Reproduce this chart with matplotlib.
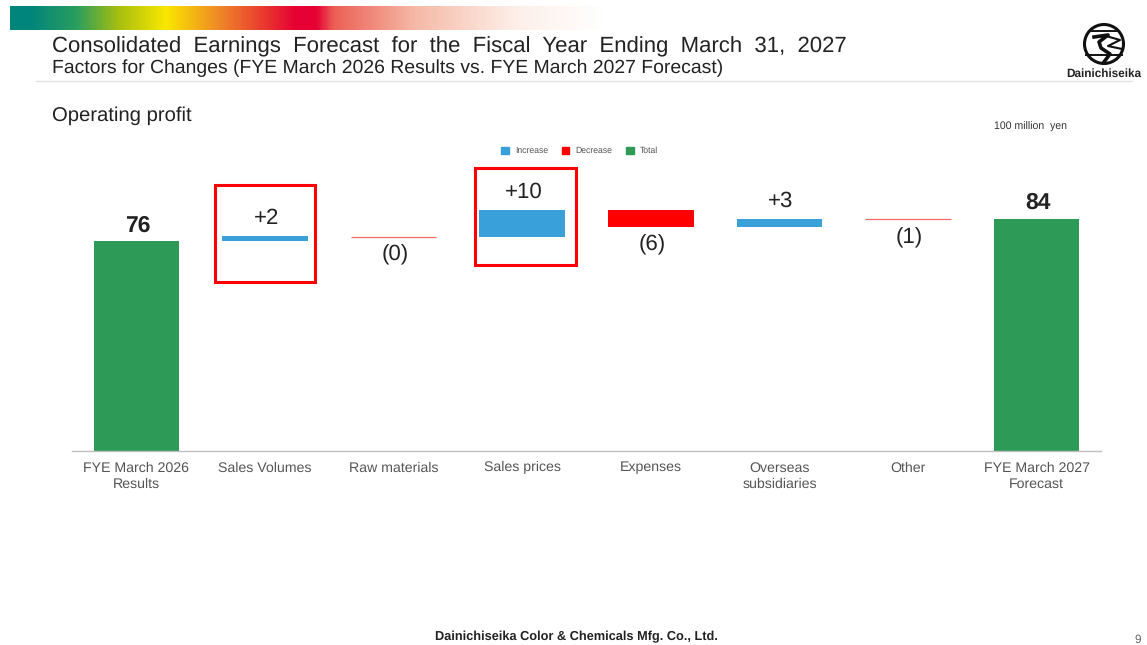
import numpy as np
import matplotlib
matplotlib.use("Agg")
import matplotlib.pyplot as plt
from matplotlib.colors import LinearSegmentedColormap
from matplotlib.patches import Rectangle, Circle, Patch

plt.rcParams['font.family'] = ['Liberation Sans', 'DejaVu Sans']
plt.rcParams['text.hinting'] = 'none'

# Datos
categorias = ['FYE March 2026\nResults', 'Sales Volumes', 'Raw materials', 'Sales prices',
              'Expenses', 'Overseas\nsubsidiaries', 'Other', 'FYE March 2027\nForecast']
valores = [76, 1.8, -0.2, 9.7, -6.1, 2.9, -0.1, 84]
etiquetas = ['76', '+2', '(0)', '+10', '(6)', '+3', '(1)', '84']
tipos = ['Total', 'Increase', 'Decrease', 'Increase', 'Decrease', 'Increase', 'Decrease', 'Total']

Azul = '#3AA0DA'
Rojo = '#FF0000'
Verde = '#2E9A57'
Gris = '#222222'
colores = {'Increase': Azul, 'Decrease': Rojo, 'Total': Verde}

W, H = 1147, 645
fig = plt.figure(figsize=(W / 100, H / 100), dpi=100)

# Capa de fondo en pixeles para encabezado, logo y pie
bg = fig.add_axes([0, 0, 1, 1])
bg.axis('off')

stops = [(0, '#00857D'), (0.03, '#00857D'), (0.11, '#2A9E5E'), (0.18, '#A5BE10'), (0.26, '#FAE800'), (0.36, '#EE7F2A'),
         (0.48, '#E60033'), (0.515, '#E60033'), (0.545, '#EC5F55'), (0.68, '#F5B8A5'), (0.85, '#FDEFE8'), (1, '#FFFFFF')]
cmap = LinearSegmentedColormap.from_list('banda', stops)
bg.imshow(np.linspace(0, 1, 600).reshape(1, -1), cmap=cmap, extent=(10, 605, 30, 6), aspect='auto')
bg.set_xlim(0, W)
bg.set_ylim(H, 0)

bg.text(52, 47, 'Consolidated  Earnings  Forecast  for  the  Fiscal  Year  Ending  March  31,  2027',
        fontsize=15.9, color=Gris, va='center')
bg.text(52, 68, 'Factors for Changes (FYE March 2026 Results vs. FYE March 2027 Forecast)',
        fontsize=13.95, color=Gris, va='center')
bg.plot([36, 1132], [81, 81], color='#E2E2E2', lw=1)
bg.text(52, 116, 'Operating profit', fontsize=14.6, color=Gris, va='center')
bg.text(1030, 126.5, '100 million  yen', fontsize=7.6, color='#333333', va='center', ha='center')

# Logo simplificado
bg.add_patch(Circle((1104, 44), 19.5, fc='white', ec='#111111', lw=2.2))
bg.plot([1090, 1118], [31, 31], color='#111111', lw=1.4)
bg.plot([1086, 1122], [55, 55], color='#111111', lw=1.4)
bg.plot([1106, 1120, 1108, 1122], [36, 40, 46, 49], color='#111111', lw=1.5)
bg.plot([1094, 1108, 1099, 1101, 1110, 1104], [37, 35, 42, 48, 54, 62], color='#111111', lw=2.6)
bg.text(1103.5, 74, 'Dainichiseika', fontsize=8.5, fontweight='bold', color=Gris, ha='center', va='center')

bg.text(576, 637, 'Dainichiseika Color & Chemicals Mfg. Co., Ltd.', fontsize=9.15, fontweight='bold',
        color=Gris, ha='center', va='center')
bg.text(1138, 640, '9', fontsize=8.5, color='#666666', ha='center', va='center')

# Grafica de cascada
x_izq, x_der, y_base, y_top = 72, 1101, 451, 140
escala = 2.76
ax = fig.add_axes([x_izq / W, 1 - y_base / H, (x_der - x_izq) / W, (y_base - y_top) / H])
ax.patch.set_alpha(0)
ax.set_xlim(-0.5, 7.5)
ax.set_ylim(0, (y_base - y_top) / escala)

x = np.arange(len(categorias))
acumulado = 0
for i, (v, tipo, txt) in enumerate(zip(valores, tipos, etiquetas)):
    if tipo == 'Total':
        base, alto = 0, v
        acumulado = v
    else:
        base, alto = min(acumulado, acumulado + v), abs(v)
        acumulado += v
    # las barras muy delgadas se dibujan como linea fina
    if alto < 0.5:
        ax.plot([x[i] - 0.3325, x[i] + 0.3325], [base + alto / 2] * 2, color='#F46A6A', lw=0.9, solid_capstyle='butt')
    else:
        ax.bar(x[i], alto, width=0.665, bottom=base, color=colores[tipo], linewidth=0)
    if tipo == 'Total':
        dy = 1.6 if i == 0 else 2.2
        ax.text(x[i] + 0.01, base + alto + dy, txt, ha='center', va='bottom', fontsize=16.5, fontweight='bold', color=Gris)
    elif tipo == 'Increase':
        ax.text(x[i] + 0.01, base + alto + 2.7, txt, ha='center', va='bottom', fontsize=16, color=Gris)
    else:
        ax.text(x[i] + 0.01, base - 2.9, txt, ha='center', va='top', fontsize=16, color=Gris)

for s in ['top', 'left', 'right']:
    ax.spines[s].set_visible(False)
ax.spines['bottom'].set_color('#BFBFBF')
ax.spines['bottom'].set_linewidth(1)
ax.set_yticks([])
ax.set_xticks(x)
ax.set_xticklabels(categorias, fontsize=10.2, color='#555555', linespacing=1.35)
ax.tick_params(axis='x', length=0, pad=7.5)

ax.legend(handles=[Patch(color=colores[k], label=k) for k in ['Increase', 'Decrease', 'Total']],
          loc='center', bbox_to_anchor=((579.5 - x_izq) / (x_der - x_izq), (y_base - 151) / (y_base - y_top)),
          ncol=3, frameon=False, fontsize=6.2, handlelength=0.9, handleheight=0.9, handletextpad=0.7,
          columnspacing=1.6, labelcolor='#555555')

# Recuadros rojos
bg2 = fig.add_axes([0, 0, 1, 1])
bg2.set_xlim(0, W)
bg2.set_ylim(H, 0)
bg2.axis('off')
bg2.add_patch(Rectangle((214.5, 185), 100.5, 97, fc='none', ec=Rojo, lw=2.2))
bg2.add_patch(Rectangle((474.5, 168), 101.5, 97, fc='none', ec=Rojo, lw=2.2))

fig.savefig('out.png', dpi=100)
